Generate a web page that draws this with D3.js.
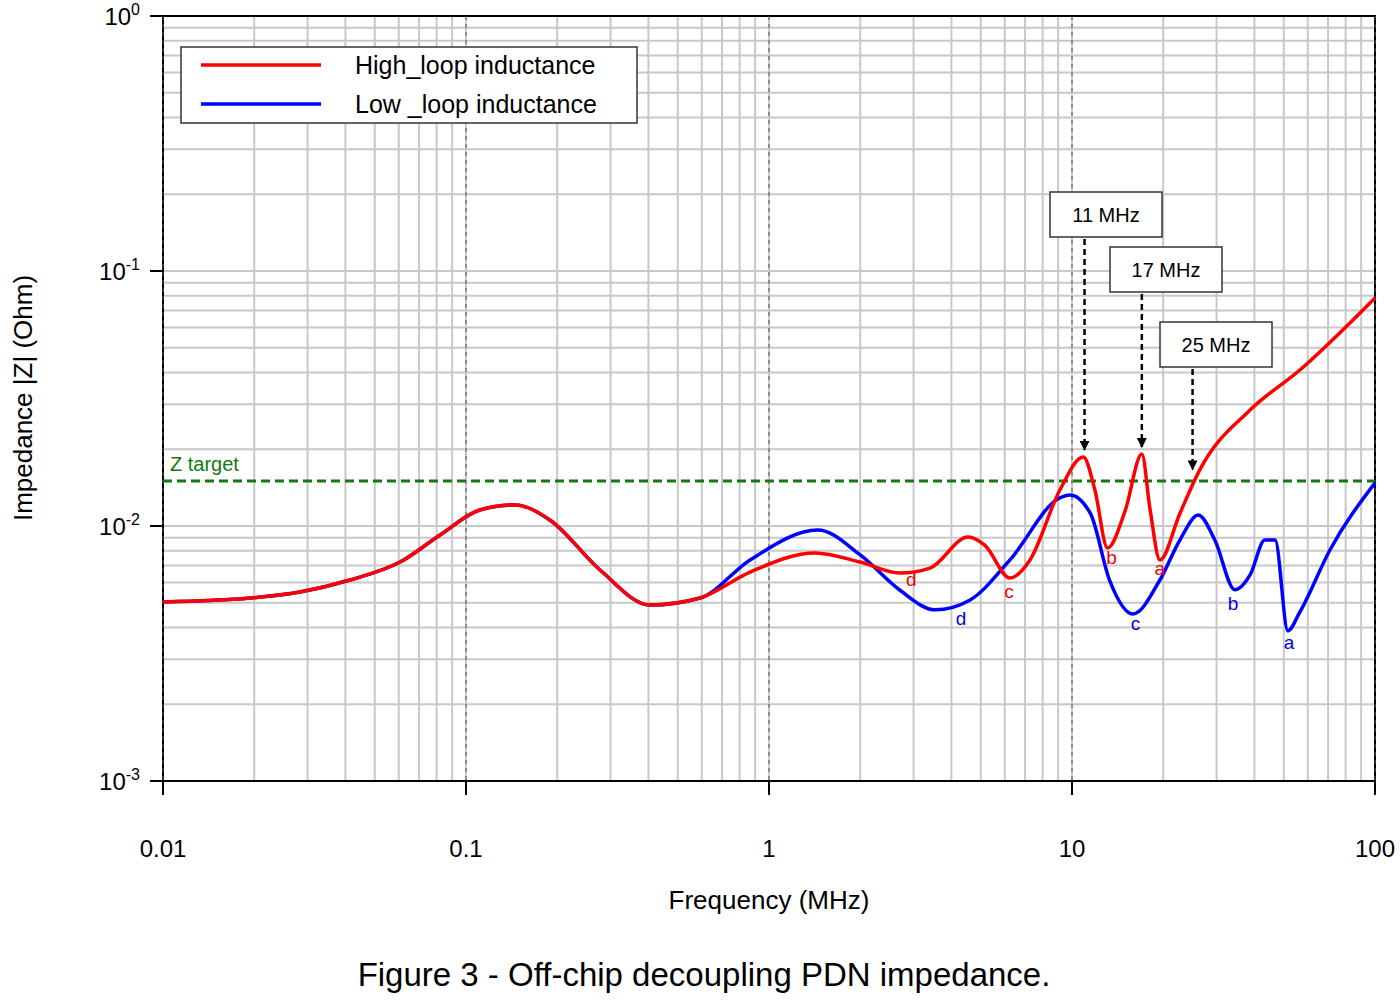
<!DOCTYPE html><html><head><meta charset="utf-8"><script src="https://cdn.jsdelivr.net/npm/d3@7"></script>
<style>body{margin:0;background:#fff}text{font-family:Arial,"Liberation Sans",sans-serif}</style></head><body><svg id="c" width="1400" height="1003"></svg><script>
const sharedF=[0.01,0.0194,0.0283,0.0414,0.0606,0.0821,0.111,0.145,0.189,0.277,0.405,0.592];
const sharedZ=[0.00504,0.00522,0.00551,0.00614,0.00722,0.00922,0.01155,0.0121,0.01056,0.00672,0.0049,0.00522];
const highF=[0.866,1.42,2.0,2.7,3.4,4.54,5.16,6.24,7.27,9.12,10.9,11.9,13.1,15.0,17.0,18.1,19.5,22.7,26.4,38.7,56.5,100];
const highZ=[0.0066,0.00784,0.00722,0.00654,0.00684,0.00906,0.0084,0.00625,0.00736,0.01384,0.01866,0.01384,0.0082,0.01155,0.01915,0.0116,0.00736,0.0112,0.0166,0.0285,0.0409,0.0784];
const lowF=[0.866,1.45,2.0,2.7,3.53,4.61,6.24,9.12,9.84,11.5,13.3,15.9,19.5,22.7,26.1,29.6,34.5,38.7,43.3,46.8,51.6,56.5,71.0,100];
const lowZ=[0.00736,0.00964,0.0077,0.00561,0.00469,0.00513,0.00736,0.0129,0.01324,0.0112,0.00614,0.00452,0.00614,0.00881,0.01104,0.00881,0.00562,0.00643,0.00881,0.00881,0.00388,0.0046,0.00805,0.01476];
const zTarget=0.015;
const xTicks=[0.01,0.1,1,10,100];
const yTickExp=[0,-1,-2,-3];
const notes=[{f:11,label:"11 MHz",bx:1050,by:192,tipZ:0.0185},{f:17,label:"17 MHz",bx:1110,by:247,tipZ:0.019},{f:25,label:"25 MHz",bx:1160,by:322,tipZ:0.0155}];
const highLbl=[["d",2.95,0.0058],["c",6.2,0.0052],["b",13.5,0.0071],["a",19.5,0.0064]];
const lowLbl=[["d",4.3,0.0041],["c",16.2,0.0039],["b",34,0.0047],["a",52,0.0033]];

const svg=d3.select("#c");
const x=d3.scaleLog().domain([0.01,100]).range([163,1375]);
const y=d3.scaleLog().domain([0.001,1]).range([781,16]);
const g=svg.append("g");
// grid
for(let d=-2;d<2;d++)for(let k=1;k<10;k++){const v=k*Math.pow(10,d);g.append("line").attr("x1",x(v)).attr("x2",x(v)).attr("y1",16).attr("y2",781).attr("stroke","#c8c8c8").attr("stroke-width",k==1?2:2);}
for(let d=-3;d<0;d++)for(let k=1;k<10;k++){const v=k*Math.pow(10,d);g.append("line").attr("y1",y(v)).attr("y2",y(v)).attr("x1",163).attr("x2",1375).attr("stroke","#c8c8c8").attr("stroke-width",2);}
// major dashed? draw frame
g.append("rect").attr("x",163).attr("y",16).attr("width",1212).attr("height",765).attr("fill","none").attr("stroke","#000").attr("stroke-width",2);
xTicks.forEach(v=>{g.append("line").attr("x1",x(v)).attr("x2",x(v)).attr("y1",781).attr("y2",795).attr("stroke","#000").attr("stroke-width",2);
 g.append("line").attr("x1",x(v)).attr("x2",x(v)).attr("y1",16).attr("y2",781).attr("stroke","#555").attr("stroke-width",1).attr("stroke-dasharray","4,4");
 g.append("text").attr("x",x(v)).attr("y",857).attr("text-anchor","middle").attr("font-size",24).text(String(v));});
yTickExp.forEach(e=>{const v=Math.pow(10,e);g.append("line").attr("x1",150).attr("x2",163).attr("y1",y(v)).attr("y2",y(v)).attr("stroke","#000").attr("stroke-width",2);
 const t=g.append("text").attr("x",140).attr("y",y(v)+9).attr("text-anchor","end").attr("font-size",24);
 t.append("tspan").text("10");t.append("tspan").attr("dy",-10).attr("font-size",16).text(String(e));});
svg.append("text").attr("x",769).attr("y",909).attr("text-anchor","middle").attr("font-size",26).text("Frequency (MHz)");
svg.append("text").attr("transform","translate(32,398) rotate(-90)").attr("text-anchor","middle").attr("font-size",26).text("Impedance |Z|  (Ohm)");
svg.append("text").attr("x",704).attr("y",986).attr("text-anchor","middle").attr("font-size",33).text("Figure 3 - Off-chip decoupling PDN impedance.");
// target
g.append("line").attr("x1",163).attr("x2",1375).attr("y1",y(zTarget)).attr("y2",y(zTarget)).attr("stroke","#117a11").attr("stroke-width",3).attr("stroke-dasharray","9,5");
g.append("text").attr("x",170).attr("y",y(zTarget)-10).attr("fill","#117a11").attr("font-size",20).text("Z target");
const line=d3.line().x(d=>x(d[0])).y(d=>y(d[1])).curve(d3.curveMonotoneX);
const shared=sharedF.map((f,i)=>[f,sharedZ[i]]);
const blue=shared.concat(lowF.map((f,i)=>[f,lowZ[i]]));
const red=shared.concat(highF.map((f,i)=>[f,highZ[i]]));
g.append("path").attr("d",line(blue)).attr("fill","none").attr("stroke","#0000ff").attr("stroke-width",3.5);
g.append("path").attr("d",line(red)).attr("fill","none").attr("stroke","#ff0000").attr("stroke-width",3.5);
highLbl.forEach(l=>g.append("text").attr("x",x(l[1])).attr("y",y(l[2])).attr("text-anchor","middle").attr("fill","#e00").attr("font-size",19).text(l[0]));
lowLbl.forEach(l=>g.append("text").attr("x",x(l[1])).attr("y",y(l[2])).attr("text-anchor","middle").attr("fill","#0000e0").attr("font-size",19).text(l[0]));
// annotations
svg.append("defs").append("marker").attr("id","ar").attr("viewBox","0 0 10 10").attr("refX",9).attr("refY",5).attr("markerWidth",4).attr("markerHeight",4).attr("orient","auto").append("path").attr("d","M0,0L10,5L0,10z").attr("fill","#000");
notes.forEach(n=>{g.append("rect").attr("x",n.bx).attr("y",n.by).attr("width",112).attr("height",45).attr("fill","#fff").attr("stroke","#333").attr("stroke-width",1.5);
 g.append("text").attr("x",n.bx+56).attr("y",n.by+30).attr("text-anchor","middle").attr("font-size",20).text(n.label);
 g.append("line").attr("x1",x(n.f)).attr("x2",x(n.f)).attr("y1",n.by+47).attr("y2",y(n.tipZ)-8).attr("stroke","#000").attr("stroke-width",2.5).attr("stroke-dasharray","6,4").attr("marker-end","url(#ar)");});
// legend
const lg=svg.append("g");
lg.append("rect").attr("x",181).attr("y",47).attr("width",456).attr("height",76).attr("fill","#fff").attr("stroke","#333").attr("stroke-width",1.5);
[["High_loop inductance","#ff0000",65],["Low _loop inductance","#0000ff",104]].forEach(r=>{
 lg.append("line").attr("x1",201).attr("x2",321).attr("y1",r[2]).attr("y2",r[2]).attr("stroke",r[1]).attr("stroke-width",3.5);
 lg.append("text").attr("x",355).attr("y",r[2]+9).attr("font-size",25).text(r[0]);});
</script></body></html>
